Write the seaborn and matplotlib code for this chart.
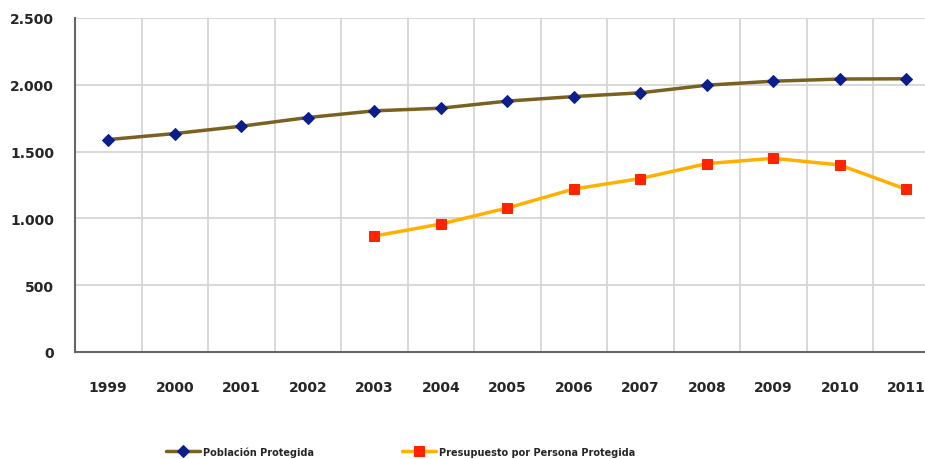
import numpy as np
import pandas as pd
import matplotlib
matplotlib.use("Agg")
import matplotlib.pyplot as plt
from matplotlib.ticker import FuncFormatter, FixedLocator
import seaborn as sns

# ---- data ----
years = ["1999", "2000", "2001", "2002", "2003", "2004", "2005",
         "2006", "2007", "2008", "2009", "2010", "2011"]
poblacion = [1590, 1635, 1690, 1755, 1805, 1825, 1878,
             1912, 1940, 1997, 2027, 2043, 2045]
presupuesto = [np.nan, np.nan, np.nan, np.nan, 868, 958, 1078,
               1220, 1298, 1410, 1450, 1400, 1218]
serie_pob = "Población Protegida"
serie_pre = "Presupuesto por Persona Protegida"

df = pd.DataFrame({"x": np.arange(len(years)),
                   "pob": poblacion,
                   "pre": presupuesto})

sns.set_style("white")
plt.rcParams["font.family"] = ["DejaVu Sans"]
plt.rcParams["font.weight"] = "bold"

fig = plt.figure(figsize=(9.25, 4.6), dpi=100)
ax = fig.add_axes([75 / 925, 1 - 353 / 460, 864.5 / 925, 334 / 460])

sns.lineplot(data=df, x="x", y="pob", ax=ax, color="#7A6120", linewidth=2.5,
             marker="D", markersize=6, markerfacecolor="#0B1E8C",
             markeredgecolor="#0B1E8C", label=serie_pob, zorder=3)
sns.lineplot(data=df.dropna(), x="x", y="pre", ax=ax, color="#FFB000", linewidth=2.5,
             marker="s", markersize=7, markerfacecolor="#FF2400",
             markeredgecolor="#FF2400", label=serie_pre, zorder=3)

ax.set_xlim(-0.5, len(years) - 0.5)
ax.set_ylim(0, 2500)
ax.set_yticks(np.arange(0, 2501, 500))
ax.yaxis.set_major_formatter(FuncFormatter(lambda v, p: f"{int(v):,}".replace(",", ".")))

ax.set_xticks(np.arange(len(years)))
ax.set_xticklabels(years)
ax.xaxis.set_minor_locator(FixedLocator(np.arange(0.5, len(years) - 0.5, 1)))
ax.tick_params(axis="x", which="major", length=0, pad=20, labelsize=10)
ax.tick_params(axis="x", which="minor", length=5, width=1.2, color="#555555", direction="out")
ax.tick_params(axis="y", length=5, width=1.2, color="#555555", pad=10, labelsize=10)
for lab in ax.get_xticklabels() + ax.get_yticklabels():
    lab.set_fontweight("bold")

ax.grid(False)
ax.yaxis.grid(True, color="#D6D6D6", linewidth=1.3)
ax.xaxis.grid(True, which="minor", color="#D6D6D6", linewidth=1.3)
ax.set_axisbelow(True)

for s in ["top", "right"]:
    ax.spines[s].set_visible(False)
for s in ["left", "bottom"]:
    ax.spines[s].set_color("#666666")
    ax.spines[s].set_linewidth(1.5)

ax.set_xlabel("")
ax.set_ylabel("")

handles, labels = ax.get_legend_handles_labels()
ax.get_legend().remove()
fig.legend(handles, labels, loc="center", bbox_to_anchor=(0.433, 0.016), ncol=2,
           frameon=False, handlelength=3.5, handletextpad=0.3, columnspacing=9,
           prop={"size": 7, "weight": "bold"})

fig.savefig("out.png", dpi=100)
